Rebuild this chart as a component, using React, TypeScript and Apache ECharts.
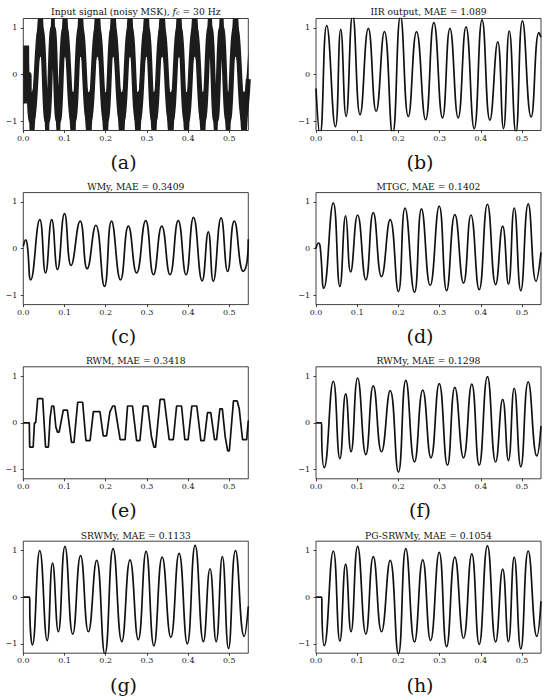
import { useEffect, useRef } from "react";
import * as echarts from "echarts";

// ---------- data ----------
const xTicks = [0, 0.1, 0.2, 0.3, 0.4, 0.5];
const yTicks = [-1, 0, 1];
const xMin = 0;
const xMax = 0.546;
const yMin = -1.2;
const yMax = 1.2;

const panelTitles = [
  "Input signal (noisy MSK), {i|f}{s|c} = 30 Hz",
  "IIR output, MAE = 1.089",
  "WMy, MAE = 0.3409",
  "MTGC, MAE = 0.1402",
  "RWM, MAE = 0.3418",
  "RWMy, MAE = 0.1298",
  "SRWMy, MAE = 0.1133",
  "PG-SRWMy, MAE = 0.1054",
];
const panelLabels = ["(a)", "(b)", "(c)", "(d)", "(e)", "(f)", "(g)", "(h)"];

// clean centre of the noisy input, and the half-width of its noise band
const inputCenter: [number, number][] = [
  [0, 0], [0.014, 0], [0.0145, -0.4], [0.02, -1], [0.042, 1], [0.058, -1], [0.072, 1],
  [0.085, -1], [0.101, 1], [0.121, -1], [0.139, 1], [0.159, -1], [0.18, 1], [0.2, -1],
  [0.218, 1], [0.239, -1], [0.259, 1], [0.278, -1], [0.299, 1], [0.317, -1], [0.337, 1],
  [0.358, -1], [0.378, 1], [0.396, -1], [0.416, 1], [0.436, -1], [0.453, 1], [0.467, -1],
  [0.481, 1], [0.497, -1], [0.515, 1], [0.536, -1], [0.546, -0.1],
];
const inputNoiseHalf = 0.62;

const iirOutput: [number, number][] = [
  [0, -0.3], [0.0097, -1.3], [0.026, 1.05], [0.047, -1.12], [0.06, 0.97], [0.073, -0.9],
  [0.089, 1.28], [0.107, -0.86], [0.127, 0.99], [0.146, -0.79], [0.166, 0.92], [0.186, -1.28],
  [0.205, 1.25], [0.224, -0.9], [0.244, 0.92], [0.266, -0.97], [0.286, 1.11], [0.307, -0.93],
  [0.325, 0.99], [0.345, -0.93], [0.364, 1.02], [0.384, -1.16], [0.403, 1.17], [0.422, -0.98],
  [0.441, 0.7], [0.455, -1.16], [0.469, 0.93], [0.485, -1.25], [0.501, 1.15], [0.522, -0.91],
  [0.541, 0.9], [0.546, 0.8],
];

const wmy: [number, number][] = [
  [0, 0.05], [0.006, 0.19], [0.01, 0.05], [0.018, -0.67], [0.04, 0.62], [0.054, -0.52],
  [0.069, 0.62], [0.083, -0.45], [0.1, 0.75], [0.116, -0.36], [0.138, 0.59], [0.155, -0.43],
  [0.176, 0.5], [0.197, -0.81], [0.214, 0.59], [0.236, -0.67], [0.255, 0.48], [0.275, -0.52],
  [0.297, 0.6], [0.316, -0.56], [0.336, 0.48], [0.356, -0.56], [0.376, 0.6], [0.395, -0.56],
  [0.413, 0.67], [0.434, -0.69], [0.449, 0.36], [0.461, -0.7], [0.48, 0.66], [0.496, -0.49],
  [0.512, 0.59], [0.534, -0.49], [0.543, -0.28], [0.546, 0.2],
];

const mtgc: [number, number][] = [
  [0, 0], [0.006, 0.12], [0.01, 0.05], [0.019, -0.85], [0.042, 0.98], [0.058, -0.81],
  [0.072, 0.7], [0.084, -0.5], [0.101, 0.72], [0.121, -0.67], [0.139, 0.77], [0.159, -0.6],
  [0.18, 0.62], [0.2, -0.92], [0.216, 0.87], [0.239, -0.94], [0.256, 0.85], [0.277, -0.79],
  [0.299, 0.91], [0.317, -0.9], [0.337, 0.73], [0.358, -0.74], [0.376, 0.72], [0.396, -0.88],
  [0.416, 0.95], [0.436, -0.77], [0.453, 0.48], [0.467, -0.76], [0.481, 0.87], [0.497, -0.9],
  [0.515, 0.96], [0.534, -0.7], [0.546, -0.08],
];

const rwm: [number, number][] = [
  [0, 0], [0.0146, 0], [0.0155, -0.52], [0.024, -0.52], [0.027, 0], [0.03, 0], [0.035, 0.52],
  [0.047, 0.52], [0.054, -0.52], [0.061, -0.52], [0.065, 0.1], [0.069, 0.36], [0.074, 0.36],
  [0.079, -0.09], [0.083, -0.2], [0.087, -0.2], [0.097, 0.27], [0.107, 0.27], [0.117, -0.42],
  [0.123, -0.42], [0.132, 0.44], [0.144, 0.44], [0.152, -0.38], [0.162, -0.38], [0.17, 0.24],
  [0.186, 0.24], [0.194, -0.28], [0.202, -0.28], [0.21, 0.23], [0.217, 0.36], [0.222, 0.36],
  [0.235, -0.36], [0.247, -0.36], [0.253, 0.36], [0.265, 0.36], [0.275, -0.38], [0.283, -0.38],
  [0.291, 0.36], [0.302, 0.36], [0.311, -0.3], [0.317, -0.52], [0.321, -0.52], [0.332, 0.5],
  [0.342, 0.5], [0.354, -0.36], [0.364, -0.36], [0.372, 0.36], [0.384, 0.36], [0.392, -0.36],
  [0.4, -0.36], [0.409, 0.36], [0.421, 0.36], [0.431, -0.38], [0.439, -0.38], [0.447, 0.22],
  [0.455, 0.22], [0.464, -0.36], [0.469, -0.36], [0.477, 0.3], [0.483, 0.3], [0.49, -0.3],
  [0.496, -0.6], [0.5, -0.6], [0.51, 0.47], [0.519, 0.47], [0.524, 0.3], [0.532, -0.36],
  [0.542, -0.36], [0.546, 0.05],
];

const rwmy: [number, number][] = [
  [0, 0], [0.0135, 0], [0.014, -0.4], [0.02, -0.96], [0.042, 0.89], [0.058, -0.77],
  [0.072, 0.62], [0.085, -0.62], [0.101, 0.96], [0.121, -0.68], [0.139, 0.79], [0.159, -0.62],
  [0.18, 0.69], [0.2, -1.06], [0.218, 0.91], [0.239, -0.84], [0.259, 0.7], [0.279, -0.75],
  [0.299, 0.84], [0.319, -0.91], [0.337, 0.76], [0.358, -0.75], [0.378, 0.83], [0.396, -0.91],
  [0.416, 0.99], [0.436, -0.84], [0.453, 0.5], [0.467, -0.81], [0.481, 0.74], [0.497, -0.94],
  [0.515, 0.88], [0.536, -0.71], [0.546, -0.07],
];

const srwmy: [number, number][] = [
  [0, 0], [0.0155, 0], [0.016, -0.4], [0.022, -1.02], [0.04, 1.0], [0.058, -0.93],
  [0.071, 0.73], [0.085, -0.74], [0.101, 1.09], [0.12, -0.79], [0.139, 0.89], [0.158, -0.74],
  [0.178, 0.79], [0.198, -1.22], [0.218, 1.04], [0.239, -0.95], [0.259, 0.8], [0.279, -0.91],
  [0.298, 0.98], [0.317, -1.04], [0.337, 0.86], [0.358, -0.86], [0.378, 0.94], [0.398, -1.0],
  [0.417, 1.11], [0.437, -0.95], [0.453, 0.61], [0.468, -0.95], [0.483, 0.87], [0.498, -1.1],
  [0.515, 1.0], [0.536, -0.84], [0.546, -0.2],
];

const pgSrwmy: [number, number][] = [
  [0, 0], [0.014, 0], [0.0145, -0.4], [0.02, -1.04], [0.042, 0.99], [0.058, -0.94],
  [0.072, 0.71], [0.085, -0.74], [0.101, 1.09], [0.121, -0.79], [0.139, 0.87], [0.159, -0.74],
  [0.18, 0.79], [0.2, -1.22], [0.218, 1.04], [0.239, -0.96], [0.259, 0.8], [0.278, -0.93],
  [0.299, 0.96], [0.317, -1.06], [0.337, 0.86], [0.358, -0.88], [0.378, 0.93], [0.396, -1.01],
  [0.416, 1.1], [0.436, -0.96], [0.453, 0.6], [0.467, -0.95], [0.481, 0.86], [0.497, -1.11],
  [0.515, 0.99], [0.536, -0.84], [0.546, -0.09],
];

// ---------- layout ----------
const GRID_W = 225;
const GRID_H = 112;
const colLeft = [23.3, 316];
const rowTop = [18.5, 192.6, 366.8, 541.2];
const titleY = [11.7, 186.6, 360.8, 535];
const labelY = [161.5, 336, 510.2, 684.5];
const labelX = [123.5, 420];

const SERIF = '"DejaVu Serif", serif';
const INK = "#111";
const SMOOTH = 0.5;

export default function App() {
  const ref = useRef<HTMLDivElement>(null);

  useEffect(() => {
    if (!ref.current) return;
    const chart = echarts.init(ref.current, undefined, { renderer: "svg" });

    const curves = [null, iirOutput, wmy, mtgc, rwm, rwmy, srwmy, pgSrwmy];

    const grid: any[] = [];
    const xAxis: any[] = [];
    const yAxis: any[] = [];
    const series: any[] = [];
    const graphic: any[] = [];

    for (let i = 0; i < 8; i++) {
      const col = i % 2;
      const row = Math.floor(i / 2);
      const left = colLeft[col];
      const top = rowTop[row];
      grid.push({
        left,
        top,
        width: GRID_W,
        height: GRID_H,
        show: false,
        containLabel: false,
        outerBoundsMode: "none",
      });
      xAxis.push({
        type: "value",
        gridIndex: i,
        min: xMin,
        max: xMax,
        axisLine: { show: false, onZero: false },
        axisTick: {
          show: true,
          length: 2.5,
          customValues: xTicks,
          lineStyle: { color: INK, width: 0.8 },
        },
        axisLabel: {
          customValues: xTicks,
          formatter: (v: number) => v.toFixed(1),
          fontFamily: SERIF,
          fontSize: 8,
          color: "#222",
          margin: 3.5,
        },
        splitLine: { show: false },
      });
      yAxis.push({
        type: "value",
        gridIndex: i,
        min: yMin,
        max: yMax,
        axisLine: { show: false, onZero: false },
        axisTick: {
          show: true,
          length: 2.5,
          customValues: yTicks,
          lineStyle: { color: INK, width: 0.8 },
        },
        axisLabel: {
          customValues: yTicks,
          formatter: (v: number) => (v < 0 ? "\u2212" + Math.abs(v) : String(v)),
          fontFamily: SERIF,
          fontSize: 8,
          color: "#222",
          margin: 6,
        },
        splitLine: { show: false },
      });

      const base = {
        type: "line",
        xAxisIndex: i,
        yAxisIndex: i,
        symbol: "none",
        showSymbol: false,
        silent: true,
        clip: true,
        smooth: SMOOTH,
      };

      if (i === 0) {
        // noise band: dark fill below the upper edge, white fill below the lower edge
        series.push({
          ...base,
          data: inputCenter.map(([t, v]) => [t, v + inputNoiseHalf]),
          lineStyle: { width: 0, opacity: 0 },
          areaStyle: { color: "#1c1c1c", opacity: 1, origin: "start" },
        });
        series.push({
          ...base,
          data: inputCenter.map(([t, v]) => [t, v - inputNoiseHalf]),
          lineStyle: { width: 0, opacity: 0 },
          areaStyle: { color: "#ffffff", opacity: 1, origin: "start" },
        });
        series.push({
          ...base,
          data: inputCenter,
          lineStyle: { color: "#1c1c1c", width: 5 },
        });
      } else {
        series.push({
          ...base,
          smooth: i === 4 ? false : SMOOTH,
          data: curves[i],
          lineStyle: { color: INK, width: 1.7 },
        });
      }

      // axes box on top of the data
      graphic.push({
        type: "rect",
        z: 100,
        silent: true,
        shape: { x: left, y: top, width: GRID_W, height: GRID_H },
        style: { fill: "none", stroke: INK, lineWidth: 0.8 },
      });

      graphic.push({
        type: "text",
        x: left + GRID_W / 2,
        y: titleY[row],
        silent: true,
        style: {
          text: panelTitles[i],
          fill: "#111",
          font: `9.2px ${SERIF}`,
          align: "center",
          verticalAlign: "middle",
          rich:
            i === 0
              ? {
                  i: { fontStyle: "italic", fontFamily: SERIF, fontSize: 9.2, fill: "#111" },
                  s: {
                    fontStyle: "italic",
                    fontFamily: SERIF,
                    fontSize: 6.5,
                    fill: "#111",
                    verticalAlign: "bottom",
                    lineHeight: 10,
                    padding: [4, 0, 0, 0],
                  },
                }
              : undefined,
        },
      });
      graphic.push({
        type: "text",
        x: labelX[col],
        y: labelY[row],
        silent: true,
        style: {
          text: panelLabels[i],
          fill: "#111",
          font: `19px ${SERIF}`,
          align: "center",
          verticalAlign: "middle",
        },
      });
    }

    chart.setOption({
      animation: false,
      backgroundColor: "#fff",
      grid,
      xAxis,
      yAxis,
      series,
      graphic,
    });

    return () => chart.dispose();
  }, []);

  return (
    <div
      ref={ref}
      style={{ position: "absolute", left: 0, top: 0, width: 550, height: 700 }}
    />
  );
}
